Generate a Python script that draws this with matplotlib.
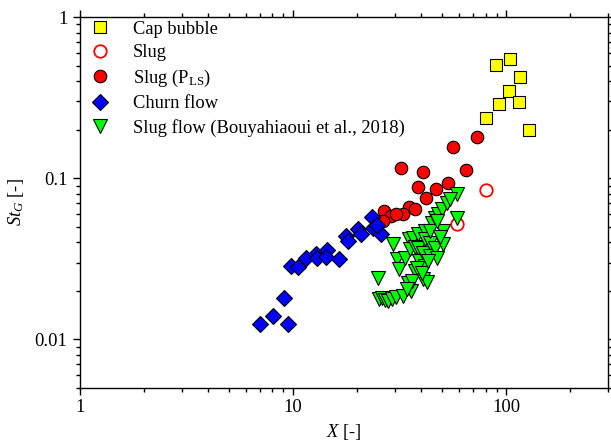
import matplotlib
matplotlib.use("Agg")
import matplotlib.pyplot as plt
from matplotlib.ticker import LogLocator, NullFormatter, FixedLocator, FixedFormatter

plt.rcParams['font.family'] = ['Liberation Serif', 'DejaVu Serif']
plt.rcParams['mathtext.fontset'] = 'custom'
plt.rcParams['mathtext.rm'] = 'Liberation Serif'
plt.rcParams['mathtext.it'] = 'Liberation Serif:italic'
plt.rcParams['mathtext.bf'] = 'Liberation Serif:bold'

# Cap bubble
cap_x = [89.8, 104.5, 116.4, 103.3, 92.7, 115.1, 80.5, 128.2]
cap_y = [0.502, 0.547, 0.423, 0.346, 0.287, 0.295, 0.235, 0.200]

# Slug (open)
slug_x = [80.5, 58.9]
slug_y = [0.0848, 0.052]

# Slug (P_LS)
pls_x = [73.1, 56.4, 32.1, 40.8, 64.9, 38.6, 46.9, 53.4, 42.1, 35.0, 37.4,
         26.8, 28.8, 32.8, 30.5, 26.5]
pls_y = [0.181, 0.157, 0.115, 0.110, 0.113, 0.0885, 0.086, 0.0938, 0.0756,
         0.0665, 0.0646, 0.0628, 0.0584, 0.0601, 0.0601, 0.0544]

# Churn flow
churn_x = [7.0, 8.06, 9.07, 9.47, 9.79, 10.55, 11.5, 12.8, 12.97, 14.4, 14.3,
           16.4, 17.7, 18.1, 20.2, 20.9, 23.5, 23.7, 25.9, 24.8]
churn_y = [0.0124, 0.0139, 0.0180, 0.0124, 0.0285, 0.0281, 0.0320, 0.0339,
           0.0320, 0.0359, 0.0324, 0.0315, 0.0438, 0.0408, 0.0485, 0.0451,
           0.0576, 0.0491, 0.0451, 0.0513]

# Slug flow (Bouyahiaoui et al., 2018)
bou_x = [29.5, 25.1, 30.8, 31.4, 33.6, 25.3, 26.2, 27.0, 27.9, 29.2, 30.5, 32.8,
         34.7, 35.8, 35.1, 35.4, 36.6, 37.4, 38.6, 38.6, 39.0, 37.4, 36.2, 34.3,
         40.8, 41.7, 41.7, 41.7, 40.8, 42.6, 44.0, 44.0, 45.0, 46.4, 46.4, 47.4,
         48.0, 50.1, 50.6, 50.6, 52.8, 58.9, 58.9, 44.0, 38.2, 40.3, 49.0, 54.6,
         47.4, 43.0]
bou_y = [0.0391, 0.0240, 0.0315, 0.0273, 0.0320, 0.0178, 0.0180, 0.0175, 0.0172,
         0.0178, 0.0183, 0.0185, 0.0223, 0.0199, 0.0420, 0.0364, 0.0426, 0.0374,
         0.0451, 0.0369, 0.0306, 0.0265, 0.0230, 0.0205, 0.0343, 0.0471, 0.0420,
         0.0285, 0.0237, 0.0227, 0.0397, 0.0329, 0.0528, 0.0567, 0.0369, 0.0320,
         0.0601, 0.0646, 0.0471, 0.0391, 0.0704, 0.0800, 0.0567, 0.0471, 0.0277,
         0.0258, 0.0432, 0.0745, 0.0544, 0.0306]

x_ticks = [1, 10, 100]
x_ticklabels = ['1', '10', '100']
y_ticks = [0.01, 0.1, 1]
y_ticklabels = ['0.01', '0.1', '1']

FS = 13.3

fig = plt.figure(figsize=(6.11, 4.47), dpi=100)
ax = fig.add_axes([80/611, (447-388)/447, (608-80)/611, (388-17)/447])

ec = 'black'
lw = 0.8
ax.plot(cap_x, cap_y, 's', ms=8.5, mfc='#ffff00', mec=ec, mew=lw,
        label='Cap bubble', zorder=3)
ax.plot(slug_x, slug_y, 'o', ms=9, mfc='none', mec='#ff0000', mew=1.3,
        label='Slug', zorder=3)
ax.plot(pls_x, pls_y, 'o', ms=9, mfc='#ff0000', mec=ec, mew=lw,
        label=r'Slug (P$_{\mathrm{LS}}$)', zorder=3)
ax.plot(churn_x, churn_y, 'D', ms=8.3, mfc='#0000ff', mec=ec, mew=lw,
        label='Churn flow', zorder=3)
ax.plot(bou_x, bou_y, 'v', ms=9.5, mfc='#00ff00', mec=ec, mew=lw,
        label='Slug flow (Bouyahiaoui et al., 2018)', zorder=3)

ax.set_xscale('log')
ax.set_yscale('log')
ax.set_xlim(1, 300)
ax.set_ylim(0.005, 1)

ax.xaxis.set_major_locator(FixedLocator(x_ticks))
ax.xaxis.set_major_formatter(FixedFormatter(x_ticklabels))
ax.yaxis.set_major_locator(FixedLocator(y_ticks))
ax.yaxis.set_major_formatter(FixedFormatter(y_ticklabels))
ax.xaxis.set_minor_locator(LogLocator(base=10, subs=range(2, 10)))
ax.yaxis.set_minor_locator(LogLocator(base=10, subs=range(2, 10)))
ax.xaxis.set_minor_formatter(NullFormatter())
ax.yaxis.set_minor_formatter(NullFormatter())

ax.tick_params(which='both', direction='out', top=True, right=True,
               labelsize=FS, width=1)
ax.tick_params(which='major', length=5)
ax.tick_params(which='minor', length=3)
ax.tick_params(axis='x', pad=3)
ax.tick_params(axis='y', pad=4)
for s in ax.spines.values():
    s.set_linewidth(1)

ax.set_xlabel(r'$X$ [-]', fontsize=FS, labelpad=4)
ax.set_ylabel(r'$St_G$ [-]', fontsize=FS, labelpad=6)

ax.legend(loc='upper left', frameon=False, fontsize=FS, handletextpad=1.0,
          labelspacing=0.35, borderaxespad=0.0, handlelength=1.5,
          borderpad=0.2, bbox_to_anchor=(0.005, 1.0))

fig.savefig('out.png', dpi=100)
